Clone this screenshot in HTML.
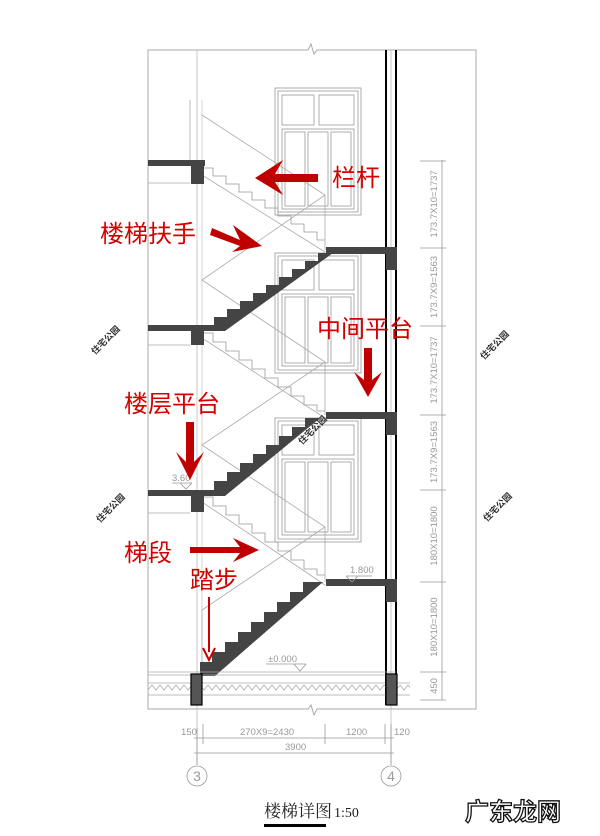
<!DOCTYPE html>
<html><head><meta charset="utf-8"><style>
html,body{margin:0;padding:0;background:#fff;}
svg{display:block;}
.r{font-family:"Liberation Sans","Noto Sans CJK SC",sans-serif;fill:#d40000;font-size:24px;}
.d{font-family:"Liberation Sans",sans-serif;fill:#999;font-size:9.5px;}
.w{font-family:"Liberation Sans","Noto Sans CJK SC",sans-serif;fill:#333;font-size:9px;font-weight:bold;}
</style></head><body>
<svg width="600" height="836" viewBox="0 0 600 836" xmlns="http://www.w3.org/2000/svg">
<defs>
<pattern id="h" width="8" height="11" patternUnits="userSpaceOnUse">
<path d="M0 3 L4 8 L8 3" fill="none" stroke="#aaa" stroke-width="0.8"/>
</pattern>
<marker id="ah" markerWidth="8" markerHeight="8" refX="4" refY="4" orient="auto"><path d="M0 0 L8 4 L0 8" fill="none" stroke="#c00" stroke-width="1.5"/></marker>
</defs>
<!-- frame -->
<path d="M148 50 H308 l3 -6 l3 10 l3 -4 H476 V709 H317 l-3 6 l-3 -10 l-3 4 H148 Z" fill="none" stroke="#aaa" stroke-width="1"/>
<!-- axis lines -->
<line x1="197" y1="50" x2="197" y2="765" stroke="#bbb" stroke-width="0.8"/>
<line x1="202" y1="100" x2="202" y2="672" stroke="#ccc" stroke-width="0.8"/>
<line x1="391" y1="50" x2="391" y2="765" stroke="#bbb" stroke-width="0.8"/>
<!-- right wall -->
<line x1="386" y1="50" x2="386" y2="705" stroke="#000" stroke-width="2"/>
<line x1="396" y1="50" x2="396" y2="705" stroke="#000" stroke-width="2"/>
<!-- windows -->
<g fill="none" stroke="#999" stroke-width="0.8">
<rect x="275" y="88" width="86" height="127"/><rect x="278" y="91" width="80" height="121"/>
<rect x="282" y="95" width="32" height="30"/><rect x="319" y="95" width="35" height="30"/>
<rect x="282" y="129" width="72" height="80"/><rect x="285" y="132" width="20" height="74"/><rect x="308" y="132" width="20" height="74"/><rect x="331" y="132" width="20" height="74"/>
<rect x="275" y="253" width="86" height="120"/><rect x="278" y="256" width="80" height="114"/>
<rect x="282" y="260" width="32" height="30"/><rect x="319" y="260" width="35" height="30"/>
<rect x="282" y="294" width="72" height="72"/><rect x="285" y="297" width="20" height="66"/><rect x="308" y="297" width="20" height="66"/><rect x="331" y="297" width="20" height="66"/>
<rect x="275" y="418" width="86" height="124"/><rect x="278" y="421" width="80" height="118"/>
<rect x="282" y="425" width="32" height="30"/><rect x="319" y="425" width="35" height="30"/>
<rect x="282" y="459" width="72" height="76"/><rect x="285" y="462" width="20" height="70"/><rect x="308" y="462" width="20" height="70"/><rect x="331" y="462" width="20" height="70"/>
</g>
<!-- railing lines -->
<g fill="none" stroke="#aaa" stroke-width="0.8">
<path d="M202 115 L325 195 V250 M325 195 L202 280 L325 362 V415 M325 362 L202 445 L325 527 V582 M325 527 L202 610 V670"/>
<path d="M202 175 L325 252 M202 338 L325 418 M202 502 L325 585"/>
<line x1="148" y1="183" x2="190" y2="183"/><line x1="148" y1="345" x2="190" y2="345"/><line x1="148" y1="513" x2="190" y2="513"/>
<line x1="190" y1="100" x2="190" y2="160"/>
</g>
<!-- back flights (outline steps) -->
<g fill="none" stroke="#999" stroke-width="0.8">
<path d="M203 168 h10 v8 h13 v8 h13 v8 h13 v8 h13 v8 h13 v8 h13 v8 h13 v8 h13 v8 h8"/>
<path d="M203 333 h10 v9 h13 v9 h13 v9 h13 v9 h13 v9 h13 v9 h13 v9 h13 v9 h13 v6 h8"/>
<path d="M203 497 h10 v9 h13 v9 h13 v9 h13 v9 h13 v9 h13 v9 h13 v9 h13 v9 h13 v6 h8"/>
</g>
<!-- slabs and flights -->
<g fill="#444">
<!-- left floor slabs -->
<rect x="148" y="160" width="57" height="6"/><rect x="191" y="160" width="13" height="24"/>
<rect x="148" y="325" width="57" height="6"/><rect x="191" y="325" width="13" height="20"/>
<rect x="148" y="490" width="57" height="6"/><rect x="191" y="490" width="13" height="22"/>
<!-- landings -->
<rect x="326" y="247" width="70" height="7"/><rect x="386" y="247" width="11" height="23"/>
<rect x="326" y="412" width="70" height="7"/><rect x="386" y="412" width="11" height="23"/>
<rect x="326" y="579" width="70" height="7"/><rect x="386" y="579" width="11" height="23"/>
<!-- flights -->
<path d="M205 331 v-6 h9 v-8 h13 v-8 h13 v-8 h13 v-8 h13 v-8 h13 v-8 h13 v-8 h13 v-8 h13 v-8 h15 L225 331 Z"/>
<path d="M205 496 v-6 h9 v-9 h13 v-9 h13 v-9 h13 v-9 h13 v-9 h13 v-9 h13 v-9 h13 v-9 h15 L225 496 Z"/>
<path d="M200 676 v-14 h12 v-10 h13 v-10 h13 v-10 h13 v-10 h13 v-10 h13 v-10 h13 v-10 h13 v-10 h20 L215 676 Z"/>
</g>
<!-- ground -->
<g stroke="#aaa" stroke-width="0.8" fill="none">
<line x1="148" y1="672" x2="396" y2="672"/><line x1="148" y1="675" x2="396" y2="675"/>
<line x1="148" y1="683" x2="410" y2="683"/><line x1="148" y1="695" x2="410" y2="695"/>
</g>
<rect x="148" y="684" width="262" height="11" fill="url(#h)"/>
<rect x="191" y="674" width="11" height="31" fill="#555" stroke="#000" stroke-width="1.2"/>
<rect x="386" y="674" width="11" height="31" fill="#555" stroke="#000" stroke-width="1.2"/>
<!-- elevation marks -->
<g stroke="#999" stroke-width="0.8" fill="none">
<path d="M266 664 H306 M294 664 l6 7 l6 -7"/>
<path d="M346 576 H372 M346 576 l6 6 l6 -6"/>
<path d="M172 483 H192 M180 483 l6 6 l6 -6"/>
</g>
<text x="268" y="662" class="d">±0.000</text>
<text x="350" y="573" class="d">1.800</text>
<text x="172" y="481" class="d">3.60</text>
<!-- right dims -->
<g stroke="#999" stroke-width="0.8">
<line x1="442" y1="160" x2="442" y2="700"/>
<line x1="420" y1="161" x2="446" y2="161"/><line x1="420" y1="248" x2="446" y2="248"/>
<line x1="420" y1="326" x2="446" y2="326"/><line x1="420" y1="415" x2="446" y2="415"/>
<line x1="420" y1="490" x2="446" y2="490"/><line x1="420" y1="582" x2="446" y2="582"/>
<line x1="420" y1="672" x2="446" y2="672"/><line x1="420" y1="700" x2="446" y2="700"/>
</g>
<g class="d">
<text transform="translate(437 204) rotate(-90)" text-anchor="middle">173.7X10=1737</text>
<text transform="translate(437 287) rotate(-90)" text-anchor="middle">173.7X9=1563</text>
<text transform="translate(437 370) rotate(-90)" text-anchor="middle">173.7X10=1737</text>
<text transform="translate(437 452) rotate(-90)" text-anchor="middle">173.7X9=1563</text>
<text transform="translate(437 536) rotate(-90)" text-anchor="middle">180X10=1800</text>
<text transform="translate(437 627) rotate(-90)" text-anchor="middle">180X10=1800</text>
<text transform="translate(437 686) rotate(-90)" text-anchor="middle">450</text>
</g>
<!-- bottom dims -->
<g stroke="#999" stroke-width="0.8">
<line x1="194" y1="738" x2="394" y2="738"/><line x1="194" y1="753" x2="394" y2="753"/>
<line x1="197" y1="728" x2="197" y2="765"/><line x1="203" y1="724" x2="203" y2="744"/>
<line x1="325" y1="724" x2="325" y2="744"/><line x1="385" y1="724" x2="385" y2="744"/>
<line x1="391" y1="724" x2="391" y2="765"/>
<circle cx="197" cy="776" r="10" fill="none"/><circle cx="391" cy="776" r="10" fill="none"/>
</g>
<g class="d">
<text x="181" y="735">150</text><text x="240" y="735">270X9=2430</text>
<text x="346" y="735">1200</text><text x="394" y="735">120</text>
<text x="285" y="750">3900</text>
</g>
<text x="197" y="781" text-anchor="middle" font-family="Liberation Sans" font-size="14" fill="#999">3</text>
<text x="391" y="781" text-anchor="middle" font-family="Liberation Sans" font-size="14" fill="#999">4</text>
<!-- title -->
<text x="264" y="817" font-family="'Liberation Serif','Noto Serif CJK SC',serif" font-size="17" fill="#222">楼梯详图</text>
<text x="334" y="817" font-family="'Liberation Serif',serif" font-size="14" fill="#222">1:50</text>
<rect x="264" y="824" width="62" height="3" fill="#000"/>
<text x="465" y="820" font-family="'Noto Sans CJK SC',sans-serif" font-size="24" font-weight="bold" fill="#fff" stroke="#111" stroke-width="1.3">广东龙网</text>
<!-- watermarks -->
<g class="w">
<text transform="translate(95 355) rotate(-45)">住宅公园</text>
<text transform="translate(100 523) rotate(-45)">住宅公园</text>
<text transform="translate(302 445) rotate(-45)">住宅公园</text>
<text transform="translate(484 360) rotate(-45)">住宅公园</text>
<text transform="translate(487 522) rotate(-45)">住宅公园</text>
</g>
<!-- red labels & arrows -->
<g class="r">
<text x="332" y="186">栏杆</text>
<text x="100" y="242">楼梯扶手</text>
<text x="317" y="337">中间平台</text>
<text x="124" y="412">楼层平台</text>
<text x="124" y="561">梯段</text>
<text x="190" y="588">踏步</text>
</g>
<g fill="#c00000">
<path d="M318 174 H275 L283 160 L255 178 L283 195 L275 182 H318 Z"/>
<path d="M212 228 L240 240 L233 225 L262 246 L232 252 L240 246 L210 235 Z"/>
<path d="M364 348 V380 L354 372 L368 397 L382 372 L372 380 V348 Z"/>
<path d="M186 422 V462 L176 452 L190 480 L204 452 L194 462 V422 Z"/>
<path d="M190 547 H240 L233 538 L259 550 L233 562 L240 553 H190 Z"/>
</g>
<line x1="209" y1="597" x2="209" y2="652" stroke="#c00" stroke-width="2"/>
<path d="M203 648 L209 660 L215 648" fill="none" stroke="#c00" stroke-width="2"/>
</svg>
</body></html>
